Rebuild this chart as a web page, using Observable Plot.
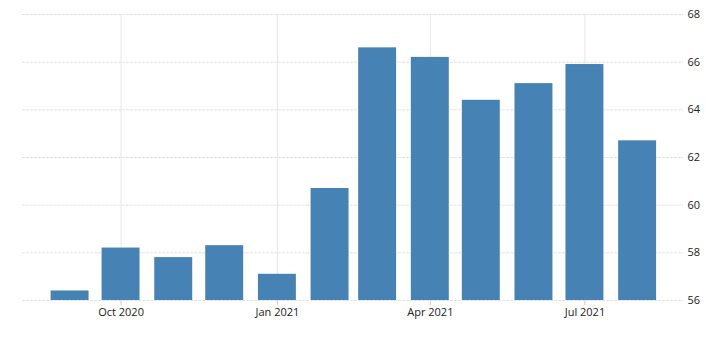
<!DOCTYPE html>
<html>
<head>
<meta charset="utf-8">
<script src="https://cdn.jsdelivr.net/npm/d3@7"></script>
<script src="https://cdn.jsdelivr.net/npm/@observablehq/plot@0.6"></script>
<style>
  html, body { margin: 0; padding: 0; background: #fff; }
  #chart { width: 728px; height: 337px; }
</style>
</head>
<body>
<div id="chart"></div>
<script>
const months = ["2020-09-01","2020-10-01","2020-11-01","2020-12-01","2021-01-01","2021-02-01",
                "2021-03-01","2021-04-01","2021-05-01","2021-06-01","2021-07-01","2021-08-01"];
const values = [56.4, 58.2, 57.8, 58.3, 57.1, 60.7, 66.6, 66.2, 64.4, 65.1, 65.9, 62.7];
const xTicks = ["2020-10-01","2021-01-01","2021-04-01","2021-07-01"];
const yTicks = [56, 58, 60, 62, 64, 66, 68];

const halfWidthHours = 268;
const data = months.map((m, i) => {
  const d = new Date(m + "T00:00:00Z");
  return {
    date: d,
    x1: d3.utcHour.offset(d, -halfWidthHours),
    x2: d3.utcHour.offset(d, halfWidthHours),
    value: values[i]
  };
});
const xTickDates = xTicks.map(t => new Date(t + "T00:00:00Z"));

const chart = Plot.plot({
  width: 728,
  height: 337,
  marginTop: 14,
  marginBottom: 37,
  marginLeft: 22,
  marginRight: 45,
  style: { fontFamily: "'Open Sans', 'DejaVu Sans', sans-serif", fontSize: "11px", color: "#222", background: "#fff" },
  x: { type: "utc", domain: [new Date("2020-08-04T00:00:00Z"), new Date("2021-08-28T00:00:00Z")], label: null },
  y: { domain: [56, 68], label: null },
  marks: [
    Plot.gridX(xTickDates, { stroke: "#e6e6e6", strokeOpacity: 1 }),
    Plot.gridY(yTicks, { stroke: "#e3e3e3", strokeOpacity: 1, strokeDasharray: "3,1" }),
    Plot.rectY(data, { x1: "x1", x2: "x2", y1: 56, y2: "value", fill: "#4682b4" }),
    Plot.axisX(xTickDates, { tickFormat: d3.utcFormat("%b %Y"), tickSize: 5, tickPadding: 3, stroke: "#ccc", fill: "#222", fontSize: 11, label: null }),
    Plot.axisY(yTicks, { anchor: "right", tickSize: 0, tickPadding: 4, fill: "#222", fontSize: 11, label: null })
  ]
});
document.getElementById("chart").appendChild(chart);
</script>
</body>
</html>
